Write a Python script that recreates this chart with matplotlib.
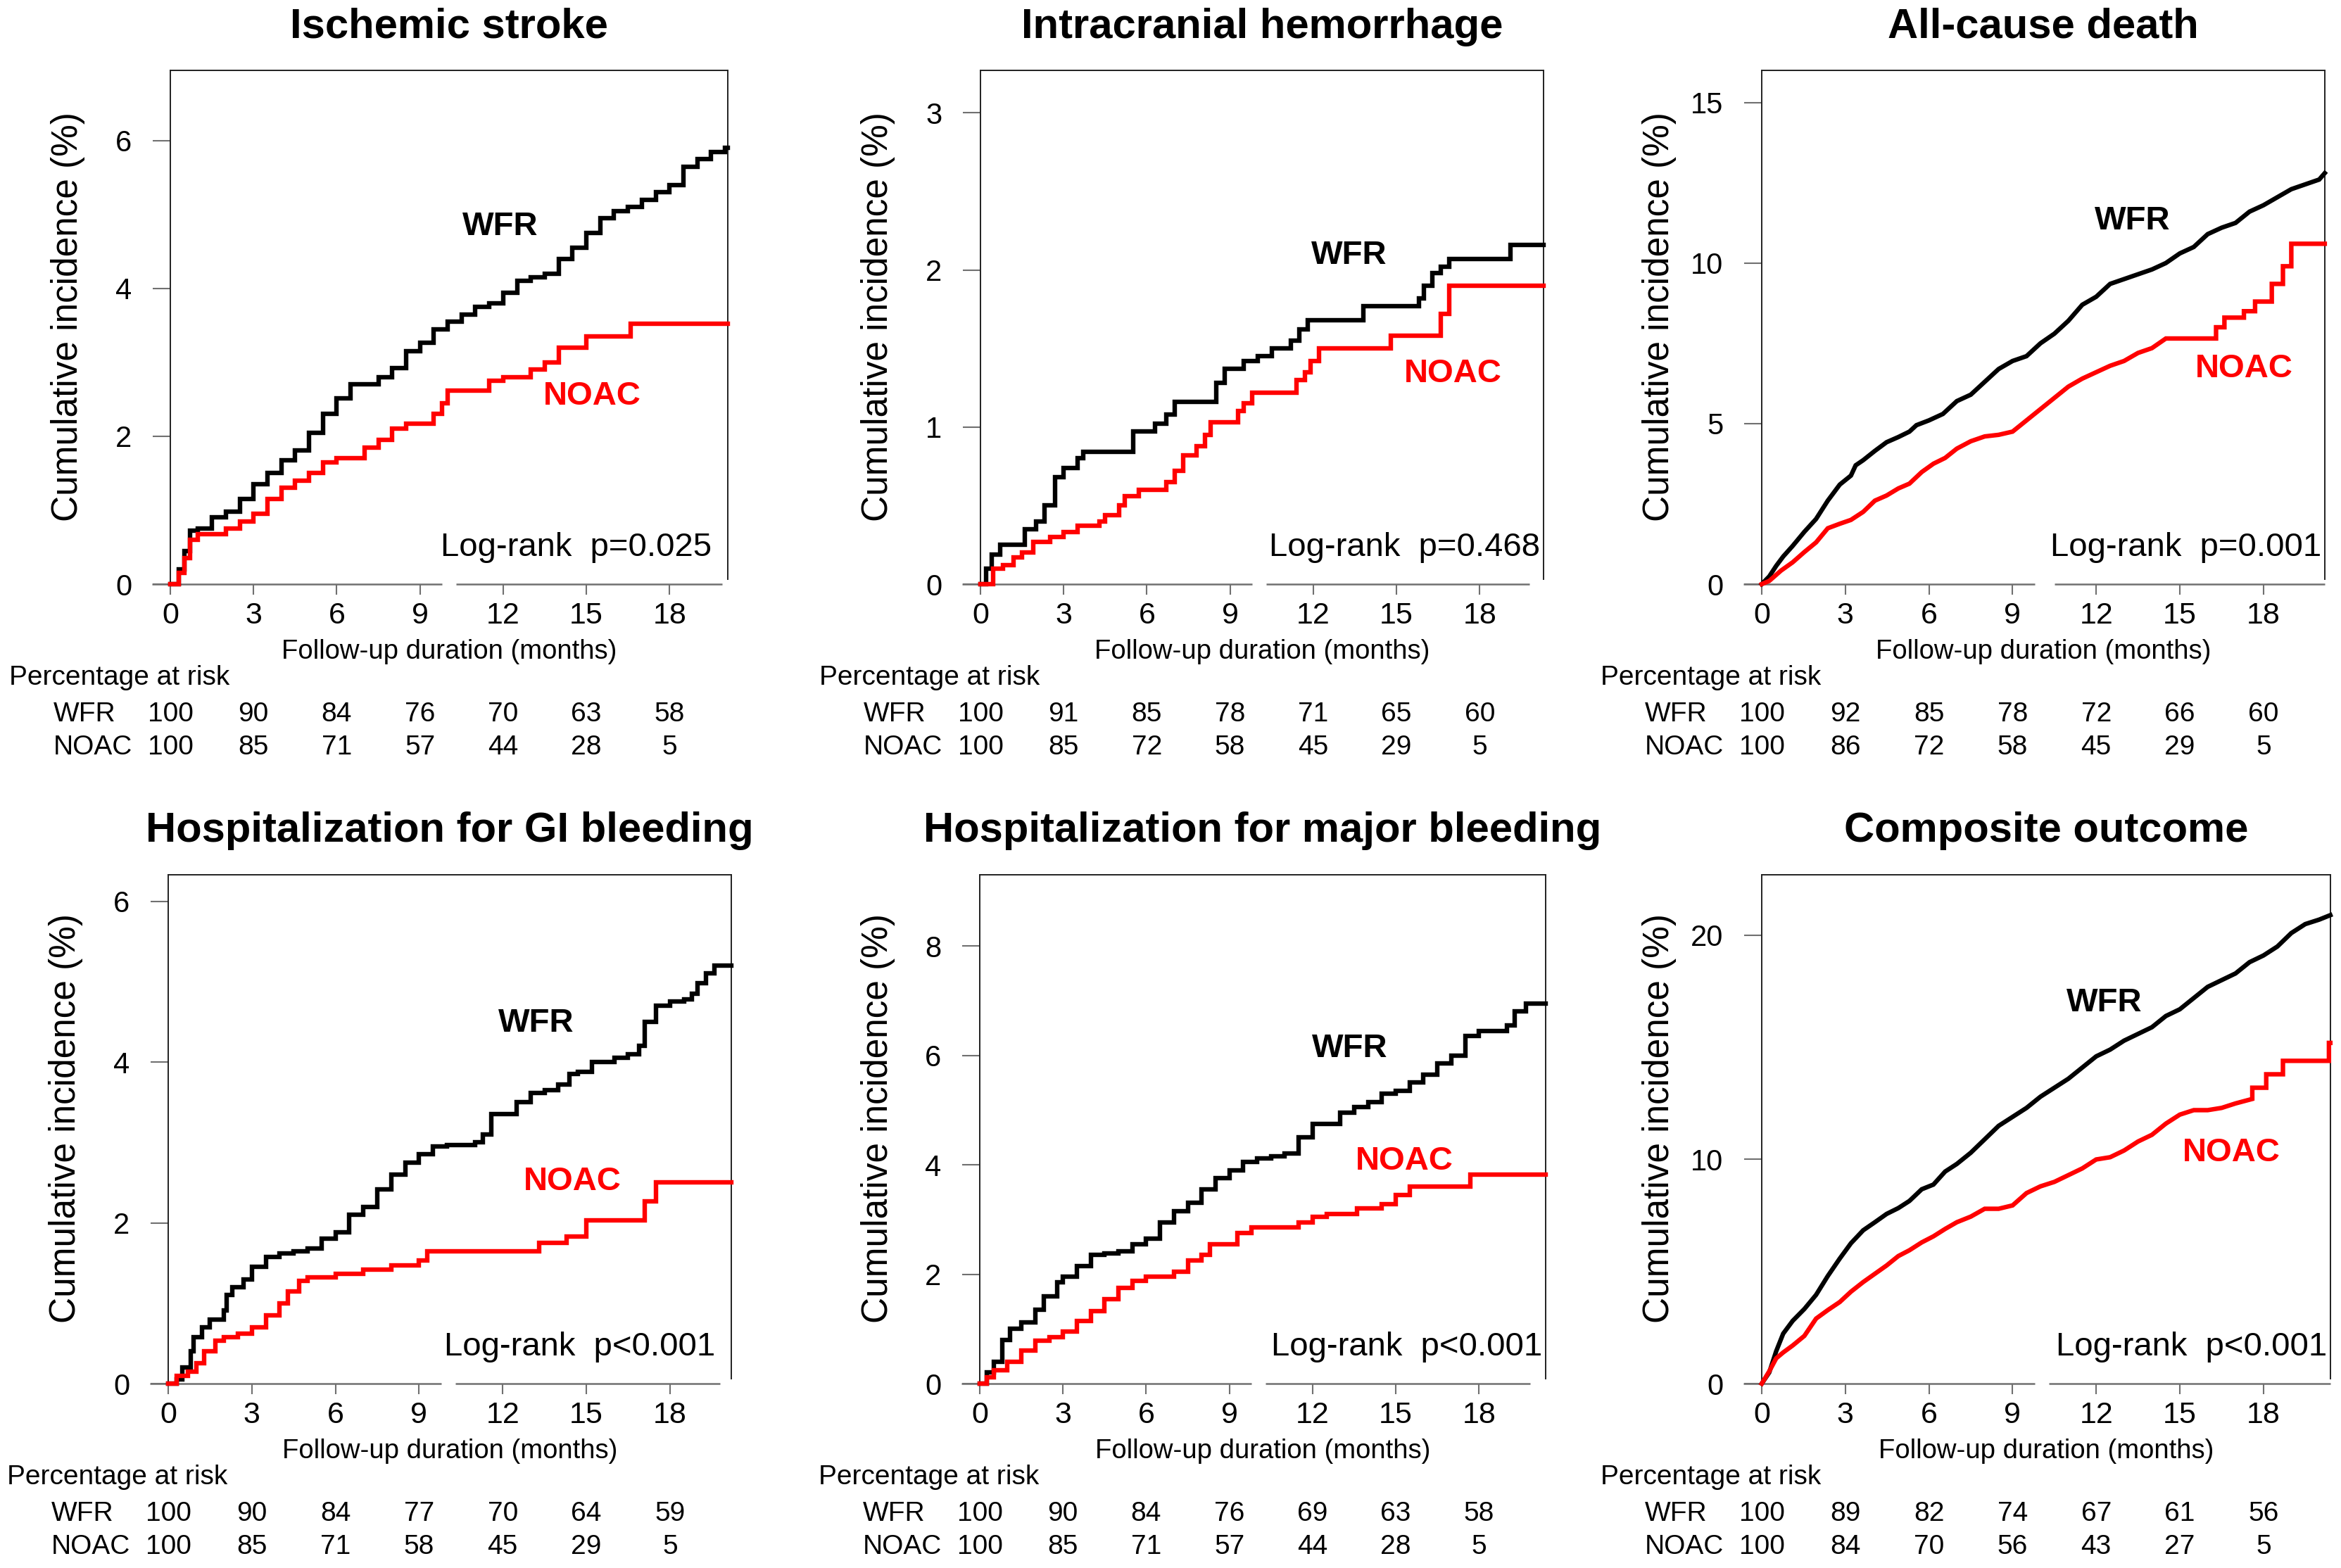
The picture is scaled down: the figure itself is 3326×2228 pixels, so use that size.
import matplotlib
matplotlib.use("Agg")
from matplotlib import pyplot as plt
from matplotlib.transforms import blended_transform_factory

plt.rcParams['font.family'] = ['Liberation Sans', 'DejaVu Sans']

W, H, DPI = 3326, 2228, 100

half_months = [0, 0.5, 1.0, 1.5, 2.0, 2.5, 3.0, 3.5, 4.0, 4.5, 5.0, 5.5, 6.0, 6.5,
               7.0, 7.5, 8.0, 8.5, 9.0, 9.5, 10.0, 10.5, 11.0, 11.5, 12.0, 12.5,
               13.0, 13.5, 14.0, 14.5, 15.0, 15.5, 16.0, 16.5, 17.0, 17.5, 18.0,
               18.5, 19.0, 19.5, 20.0]
risk_months = [0, 3, 6, 9, 12, 15, 18]

titles = ["Ischemic stroke", "Intracranial hemorrhage", "All-cause death",
          "Hospitalization for GI bleeding", "Hospitalization for major bleeding",
          "Composite outcome"]
pvalues = ["p=0.025", "p=0.468", "p=0.001", "p<0.001", "p<0.001", "p<0.001"]
yticks = [[0, 2, 4, 6], [0, 1, 2, 3], [0, 5, 10, 15],
          [0, 2, 4, 6], [0, 2, 4, 6, 8], [0, 10, 20]]
ytops = [6.95, 3.27, 16.0, 6.33, 9.3, 22.7]
# sparse curves drawn as steps, dense ones as a line through the read points
stepped = [True, True, False, True, True, False]

# ischemic stroke
stroke_wfr_t = [0, 0.3, 0.5, 0.7, 1.0, 1.5, 2.0, 2.5, 3.0, 3.5, 4.0, 4.5, 5.0, 5.5, 6.0,
                6.5, 7.0, 7.5, 8.0, 8.5, 9.0, 9.5, 10.0, 10.5, 11.0, 11.5, 12.0, 12.5,
                13.0, 13.5, 14.0, 14.5, 15.0, 15.5, 16.0, 16.5, 17.0, 17.5, 18.0, 18.5,
                19.0, 19.5, 20.0]
stroke_wfr_v = [0, 0.2, 0.45, 0.72, 0.75, 0.9, 0.98, 1.15, 1.35, 1.5, 1.68, 1.81, 2.05,
                2.3, 2.51, 2.7, 2.7, 2.8, 2.92, 3.15, 3.27, 3.45, 3.55, 3.65, 3.75, 3.8,
                3.94, 4.1, 4.15, 4.2, 4.4, 4.55, 4.75, 4.95, 5.05, 5.1, 5.2, 5.3, 5.4,
                5.65, 5.75, 5.85, 5.9]
stroke_noac_t = [0, 0.3, 0.5, 0.7, 1.0, 2.0, 2.5, 3.0, 3.5, 4.0, 4.5, 5.0, 5.5, 6.0, 7.0,
                 7.5, 8.0, 8.5, 9.5, 9.8, 10.0, 11.5, 12.0, 13.0, 13.5, 14.0, 15.0, 16.6]
stroke_noac_v = [0, 0.15, 0.35, 0.6, 0.68, 0.75, 0.85, 0.95, 1.15, 1.3, 1.4, 1.5, 1.65,
                 1.7, 1.85, 1.95, 2.1, 2.17, 2.3, 2.45, 2.62, 2.75, 2.8, 2.9, 3.0, 3.2,
                 3.35, 3.52]

# intracranial hemorrhage
ich_wfr_t = [0, 0.2, 0.4, 0.7, 1.6, 2.0, 2.3, 2.7, 3.0, 3.5, 3.7, 5.5, 6.3, 6.7, 7.0,
             8.5, 8.8, 9.5, 10.0, 10.5, 11.2, 11.5, 11.8, 13.8, 15.8, 16.0, 16.3, 16.6,
             16.9, 19.1]
ich_wfr_v = [0, 0.1, 0.19, 0.25, 0.35, 0.4, 0.5, 0.68, 0.74, 0.8, 0.84, 0.97, 1.02, 1.08,
             1.16, 1.28, 1.37, 1.42, 1.45, 1.5, 1.55, 1.62, 1.68, 1.77, 1.82, 1.9, 1.98,
             2.02, 2.07, 2.16]
ich_noac_t = [0, 0.45, 0.8, 1.2, 1.5, 1.9, 2.5, 3.0, 3.5, 4.3, 4.5, 5.0, 5.2, 5.7, 6.7,
              7.0, 7.3, 7.8, 8.1, 8.3, 9.3, 9.5, 9.8, 11.4, 11.7, 11.9, 12.2, 14.8, 16.6,
              16.9]
ich_noac_v = [0, 0.1, 0.12, 0.17, 0.2, 0.27, 0.3, 0.33, 0.37, 0.4, 0.44, 0.5, 0.56, 0.6,
              0.65, 0.72, 0.82, 0.88, 0.95, 1.03, 1.1, 1.15, 1.22, 1.3, 1.35, 1.42, 1.5,
              1.58, 1.72, 1.9]

# all-cause death
death_wfr_t = [0, 0.27, 0.52, 0.77, 1.11, 1.53, 1.95, 2.37, 2.8, 3.2, 3.37, 3.64, 4.06,
               4.48, 4.9, 5.3, 5.55, 6.0, 6.5, 7.0, 7.5, 8.0, 8.5, 9.0, 9.5, 10.0, 10.5,
               11.0, 11.5, 12.0, 12.5, 13.0, 13.5, 14.0, 14.5, 15.0, 15.5, 16.0, 16.5,
               17.0, 17.5, 18.0, 18.5, 19.0, 19.5, 20.0, 20.2]
death_wfr_v = [0, 0.24, 0.57, 0.86, 1.19, 1.63, 2.03, 2.6, 3.1, 3.38, 3.7, 3.86, 4.15,
               4.42, 4.58, 4.75, 4.95, 5.1, 5.3, 5.7, 5.9, 6.3, 6.7, 6.95, 7.1, 7.5, 7.8,
               8.2, 8.7, 8.95, 9.35, 9.5, 9.65, 9.8, 10.0, 10.3, 10.5, 10.9, 11.1, 11.25,
               11.6, 11.8, 12.05, 12.3, 12.45, 12.6, 12.8]
death_noac_t = [0, 0.27, 0.69, 1.11, 1.53, 1.95, 2.37, 2.8, 3.2, 3.64, 4.06, 4.48, 4.9,
                5.3, 5.74, 6.16, 6.58, 7.0, 7.5, 8.0, 8.5, 9.0, 9.5, 10.0, 10.5, 11.0,
                11.5, 12.0, 12.5, 13.0, 13.5, 14.0, 14.5, 15.0, 16.3, 16.3, 16.6, 16.6,
                17.3, 17.3, 17.7, 17.7, 18.3, 18.3, 18.7, 18.7, 19.0, 19.0]
death_noac_v = [0, 0.1, 0.42, 0.68, 1.0, 1.3, 1.74, 1.88, 2.0, 2.25, 2.6, 2.76, 2.98,
                3.13, 3.49, 3.75, 3.93, 4.22, 4.45, 4.6, 4.65, 4.75, 5.1, 5.45, 5.8, 6.15,
                6.4, 6.6, 6.8, 6.95, 7.2, 7.35, 7.65, 7.65, 7.65, 8.0, 8.0, 8.3, 8.3, 8.5,
                8.5, 8.8, 8.8, 9.35, 9.35, 9.9, 9.9, 10.6]

# hospitalization for GI bleeding
gi_wfr_t = [0, 0.3, 0.5, 0.8, 0.9, 1.2, 1.5, 2.0, 2.1, 2.3, 2.7, 3.0, 3.5, 4.0, 4.5, 5.0,
            5.5, 6.0, 6.5, 7.0, 7.5, 8.0, 8.5, 9.0, 9.5, 10.0, 11.0, 11.3, 11.6, 12.5,
            13.0, 13.5, 14.0, 14.4, 14.7, 15.2, 16.0, 16.5, 16.9, 17.1, 17.5, 18.0, 18.5,
            18.8, 19.0, 19.3, 19.6]
gi_wfr_v = [0, 0.05, 0.2, 0.4, 0.58, 0.7, 0.8, 0.91, 1.1, 1.2, 1.3, 1.45, 1.58, 1.62,
            1.65, 1.68, 1.8, 1.88, 2.1, 2.2, 2.42, 2.6, 2.75, 2.85, 2.95, 2.97, 3.0, 3.1,
            3.35, 3.5, 3.62, 3.65, 3.72, 3.85, 3.88, 4.0, 4.05, 4.1, 4.2, 4.5, 4.7, 4.75,
            4.78, 4.85, 4.98, 5.1, 5.2]
gi_noac_t = [0, 0.3, 0.7, 1.0, 1.3, 1.7, 2.0, 2.5, 3.0, 3.5, 4.0, 4.3, 4.7, 5.0, 6.0, 7.0,
             8.0, 9.0, 9.3, 13.3, 14.3, 15.0, 17.1, 17.5]
gi_noac_v = [0, 0.1, 0.15, 0.25, 0.4, 0.53, 0.58, 0.62, 0.7, 0.85, 1.0, 1.15, 1.28, 1.32,
             1.37, 1.42, 1.47, 1.53, 1.65, 1.75, 1.83, 2.03, 2.27, 2.5]

# hospitalization for major bleeding
major_wfr_t = [0, 0.25, 0.5, 0.8, 1.1, 1.5, 2.0, 2.3, 2.8, 3.0, 3.5, 4.0, 4.5, 5.0, 5.5,
               6.0, 6.5, 7.0, 7.5, 8.0, 8.5, 9.0, 9.5, 10.0, 10.5, 11.0, 11.5, 12.0, 13.0,
               13.5, 14.0, 14.5, 15.0, 15.5, 16.0, 16.5, 17.0, 17.5, 18.0, 19.0, 19.3,
               19.7]
major_wfr_v = [0, 0.2, 0.4, 0.8, 1.0, 1.12, 1.35, 1.6, 1.85, 1.95, 2.15, 2.35, 2.38, 2.42,
               2.55, 2.65, 2.95, 3.15, 3.3, 3.55, 3.75, 3.9, 4.05, 4.12, 4.15, 4.2, 4.5,
               4.75, 4.95, 5.05, 5.15, 5.3, 5.35, 5.5, 5.65, 5.85, 6.0, 6.35, 6.45, 6.55,
               6.8, 6.95]
major_noac_t = [0, 0.25, 0.5, 1.0, 1.5, 2.0, 2.5, 3.0, 3.5, 4.0, 4.5, 5.0, 5.5, 6.0, 7.0,
                7.5, 8.0, 8.3, 9.3, 9.8, 11.5, 12.0, 12.5, 13.6, 14.5, 15.0, 15.5, 17.7]
major_noac_v = [0, 0.12, 0.25, 0.4, 0.6, 0.78, 0.85, 0.95, 1.15, 1.33, 1.55, 1.75, 1.88,
                1.95, 2.05, 2.25, 2.35, 2.55, 2.75, 2.85, 2.95, 3.05, 3.1, 3.2, 3.28, 3.45,
                3.6, 3.82]

# composite outcome
comp_wfr_t = [0, 0.27, 0.52, 0.77, 1.11, 1.53, 1.95, 2.37, 2.8, 3.2, 3.64, 4.06, 4.48,
              4.9, 5.3, 5.74, 6.16, 6.58, 7.0, 7.5, 8.0, 8.5, 9.0, 9.5, 10.0, 10.5, 11.0,
              11.5, 12.0, 12.5, 13.0, 13.5, 14.0, 14.5, 15.0, 15.5, 16.0, 16.5, 17.0,
              17.5, 18.0, 18.5, 19.0, 19.5, 20.0, 20.4]
comp_wfr_v = [0, 0.5, 1.45, 2.23, 2.8, 3.33, 3.96, 4.8, 5.58, 6.26, 6.84, 7.2, 7.57, 7.83,
              8.15, 8.67, 8.88, 9.46, 9.8, 10.3, 10.9, 11.5, 11.9, 12.3, 12.8, 13.2, 13.6,
              14.1, 14.6, 14.9, 15.3, 15.6, 15.9, 16.4, 16.7, 17.2, 17.7, 18.0, 18.3,
              18.8, 19.1, 19.5, 20.1, 20.5, 20.7, 20.9]
comp_noac_t = [0, 0.27, 0.52, 0.77, 1.11, 1.53, 1.95, 2.37, 2.8, 3.2, 3.64, 4.06, 4.48,
               4.9, 5.3, 5.74, 6.16, 6.58, 7.0, 7.5, 8.0, 8.5, 9.0, 9.5, 10.0, 10.5, 11.0,
               11.5, 12.0, 12.5, 13.0, 13.5, 14.0, 14.5, 15.0, 15.5, 16.0, 16.5, 17.0,
               17.6, 17.6, 18.1, 18.1, 18.7, 18.7, 20.35, 20.35]
comp_noac_v = [0, 0.55, 1.13, 1.39, 1.7, 2.13, 2.9, 3.28, 3.64, 4.1, 4.53, 4.9, 5.27,
               5.69, 5.95, 6.3, 6.57, 6.9, 7.2, 7.45, 7.8, 7.8, 7.95, 8.5, 8.8, 9.0, 9.3,
               9.6, 10.0, 10.1, 10.4, 10.8, 11.1, 11.6, 12.0, 12.2, 12.2, 12.3, 12.5,
               12.7, 13.2, 13.2, 13.8, 13.8, 14.4, 14.4, 15.2]

# percentage at risk
risk_wfr = [[100, 90, 84, 76, 70, 63, 58], [100, 91, 85, 78, 71, 65, 60],
            [100, 92, 85, 78, 72, 66, 60], [100, 90, 84, 77, 70, 64, 59],
            [100, 90, 84, 76, 69, 63, 58], [100, 89, 82, 74, 67, 61, 56]]
risk_noac = [[100, 85, 71, 57, 44, 28, 5], [100, 85, 72, 58, 45, 29, 5],
             [100, 86, 72, 58, 45, 29, 5], [100, 85, 71, 58, 45, 29, 5],
             [100, 85, 71, 57, 44, 28, 5], [100, 84, 70, 56, 43, 27, 5]]

curves = [(stroke_wfr_t, stroke_wfr_v, stroke_noac_t, stroke_noac_v),
          (ich_wfr_t, ich_wfr_v, ich_noac_t, ich_noac_v),
          (death_wfr_t, death_wfr_v, death_noac_t, death_noac_v),
          (gi_wfr_t, gi_wfr_v, gi_noac_t, gi_noac_v),
          (major_wfr_t, major_wfr_v, major_noac_t, major_noac_v),
          (comp_wfr_t, comp_wfr_v, comp_noac_t, comp_noac_v)]

# where the group names sit (months, %)
wfr_label_pos = [(11.9, 4.84), (13.3, 2.09), (13.3, 11.3), (13.2, 4.48), (13.35, 6.12), (12.3, 17.0)]
noac_label_pos = [(15.2, 2.54), (17.05, 1.34), (17.3, 6.7), (14.5, 2.51), (15.3, 4.07), (16.85, 10.3)]

# layout in pixels: spine x, px per month, x max, top, baseline, right end of axis line, logrank inset
layout = [(242, 39.4, 20.1, 100, 830, 19.9, 23),
          (1393, 39.4, 20.3, 100, 830, 19.8, 5),
          (2503, 39.6, 20.2, 100, 830, 20.2, 5),
          (239, 39.6, 20.2, 1243, 1966, 19.8, 23),
          (1392, 39.4, 20.4, 1243, 1966, 19.85, 5),
          (2503, 39.6, 20.4, 1243, 1966, 20.4, 5)]
XMIN = -0.65
GREY = '#707070'
LW = 4.6


def pt(px):
    return px * 72 / DPI


fig = plt.figure(figsize=(W / DPI, H / DPI), dpi=DPI)

for i in range(6):
    sx, ppm, xmax, top, base, seg_end, inset = layout[i]
    left = sx + XMIN * ppm
    width = (xmax - XMIN) * ppm
    ax = fig.add_axes([left / W, (H - base) / H, width / W, (base - top) / H])
    ytop = ytops[i]
    ax.set_xlim(XMIN, xmax)
    ax.set_ylim(0, ytop)

    ax.spines['left'].set_position(('data', 0))
    ax.spines['left'].set_bounds(0, ytop)
    ax.spines['top'].set_bounds(0, xmax)
    ax.spines['right'].set_bounds(ytop * 0.01, ytop)
    ax.spines['bottom'].set_visible(False)
    for s in ['left', 'top', 'right']:
        ax.spines[s].set_linewidth(1.4)
        ax.spines[s].set_color('#202020')

    # broken time axis
    gap_end = 10.5 if i == 2 else 10.3
    ax.hlines([0, 0], [XMIN, gap_end], [9.8, seg_end], color=GREY, lw=1.8, clip_on=False)

    ax.set_xticks(risk_months)
    ax.set_yticks(yticks[i])
    ax.tick_params(axis='x', length=pt(15), width=1.5, color=GREY, pad=pt(10),
                   labelsize=31)
    ax.tick_params(axis='y', length=pt(24.6), width=1.5, color=GREY, pad=pt(30),
                   labelsize=30)

    wt, wv, nt, nv = curves[i]
    ds = 'steps-post' if stepped[i] else 'default'
    ax.plot(list(wt) + [xmax], list(wv) + [wv[-1]], drawstyle=ds, color='black',
            lw=LW, clip_on=False, zorder=3, solid_joinstyle='miter')
    ax.plot(list(nt) + [xmax], list(nv) + [nv[-1]], drawstyle=ds, color='#ff0000',
            lw=LW, clip_on=False, zorder=4, solid_joinstyle='miter')

    ax.text(*wfr_label_pos[i], "WFR", color='black', fontsize=34, fontweight='bold',
            ha='center', va='center')
    ax.text(*noac_label_pos[i], "NOAC", color='#ff0000', fontsize=34, fontweight='bold',
            ha='center', va='center')

    right = sx + xmax * ppm
    fig.text((right - inset) / W, (H - (base - 52)) / H, "Log-rank  " + pvalues[i],
             fontsize=34, ha='right', va='center')

    mid = (sx + right) / 2
    fig.text(mid / W, (H - (38 if i < 3 else 1181)) / H, titles[i], fontsize=43,
             fontweight='bold', ha='center', va='center')
    fig.text((sx - 145) / W, (H - ((top + base) / 2 - 15)) / H, "Cumulative incidence (%)",
             fontsize=37, rotation=90, ha='center', va='center')
    fig.text(mid / W, (H - (base + 96)) / H, "Follow-up duration (months)",
             fontsize=27.5, ha='center', va='center')

    # risk table
    fig.text((sx - 229) / W, (H - (base + 133)) / H, "Percentage at risk",
             fontsize=28, ha='left', va='center')
    fig.text((sx - 166) / W, (H - (base + 185)) / H, "WFR", fontsize=28,
             ha='left', va='center')
    fig.text((sx - 166) / W, (H - (base + 232)) / H, "NOAC", fontsize=28,
             ha='left', va='center')
    trans = blended_transform_factory(ax.transData, fig.transFigure)
    for m, a, b in zip(risk_months, risk_wfr[i], risk_noac[i]):
        ax.text(m, (H - (base + 185)) / H, str(a), transform=trans, fontsize=28,
                ha='center', va='center', clip_on=False)
        ax.text(m, (H - (base + 232)) / H, str(b), transform=trans, fontsize=28,
                ha='center', va='center', clip_on=False)

fig.savefig("out.png", dpi=DPI)
